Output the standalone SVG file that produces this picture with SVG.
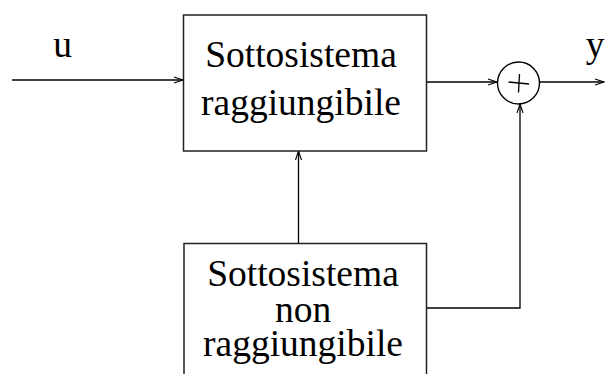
<svg xmlns="http://www.w3.org/2000/svg" width="605" height="374" viewBox="0 0 605 374">
<style>
.box{fill:#fff;stroke:#222;stroke-width:1.5}
.ln{fill:none;stroke:#000;stroke-width:1.3}
.t{font-family:"Liberation Serif","Times New Roman",serif;font-size:37.5px;fill:#000;text-anchor:middle}
</style>
<defs>
<marker id="ah" viewBox="-10 -5 12 10" refX="0" refY="0" markerWidth="12" markerHeight="10" markerUnits="userSpaceOnUse" orient="auto">
<path d="M-9,-3 L0,0 L-9,3" fill="none" stroke="#000" stroke-width="1.1"/>
</marker>
</defs>
<g id="connectors">
<line class="ln" x1="12" y1="80" x2="183" y2="80" marker-end="url(#ah)"/>
<line class="ln" x1="427" y1="82" x2="497" y2="82" marker-end="url(#ah)"/>
<line class="ln" x1="539.5" y1="82" x2="604" y2="82" marker-end="url(#ah)"/>
<line class="ln" x1="298.5" y1="243" x2="298.5" y2="151" marker-end="url(#ah)"/>
<polyline class="ln" points="427,308 520,308 520,104" marker-end="url(#ah)"/>
</g>
<g id="label-u"><text class="t" x="62.5" y="57">u</text></g>
<g id="label-y"><text class="t" x="595" y="57">y</text></g>
<g id="reachable">
<rect class="box" x="183.5" y="15" width="243" height="136"/>
<text class="t"><tspan x="301" y="67">Sottosistema</tspan><tspan x="301" y="115">raggiungibile</tspan></text>
</g>
<g id="unreachable">
<rect class="box" x="184" y="243.5" width="242.5" height="140"/>
<text class="t"><tspan x="303" y="286">Sottosistema</tspan><tspan x="303" y="322">non</tspan><tspan x="303" y="356">raggiungibile</tspan></text>
</g>
<g id="sum">
<circle cx="518.5" cy="83" r="21" fill="#fff" stroke="#000" stroke-width="1.4"/>
<line class="ln" x1="508.5" y1="82" x2="529" y2="84"/>
<line class="ln" x1="519.5" y1="74" x2="518.5" y2="92.5"/>
</g>
</svg>
